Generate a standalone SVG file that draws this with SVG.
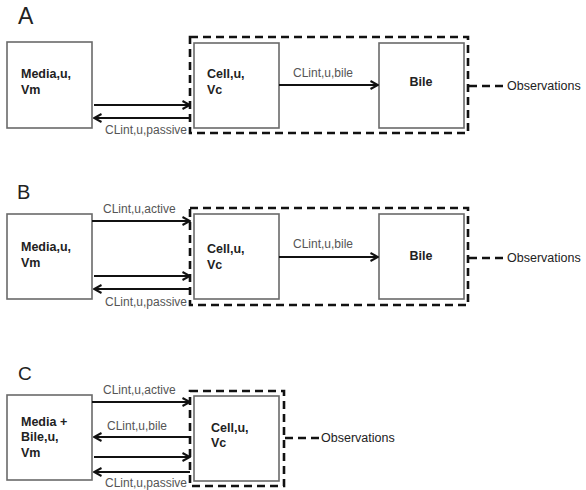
<svg xmlns="http://www.w3.org/2000/svg" width="586" height="490" viewBox="0 0 586 490">
<style>
.box{fill:#fff;stroke:#6a6a6a;stroke-width:1.6}
.dash{fill:none;stroke:#111;stroke-width:2.6;stroke-dasharray:8,5}
.obsl{fill:none;stroke:#111;stroke-width:2.4;stroke-dasharray:8,5}
.arr{stroke:#111;stroke-width:2.2;fill:none;marker-end:url(#ah)}
.ln{stroke:#111;stroke-width:2.2;fill:none}
.nt{font-family:"Liberation Sans",Arial,sans-serif;font-weight:bold;font-size:12.5px;fill:#222}
.lb{font-family:"Liberation Sans",Arial,sans-serif;font-size:12px;fill:#555}
.ob{font-family:"Liberation Sans",Arial,sans-serif;font-size:12.5px;fill:#222}
.pl{font-family:"Liberation Sans",Arial,sans-serif;fill:#222}
</style>
<defs>
<marker id="ah" markerWidth="10" markerHeight="10" refX="9" refY="5" orient="auto" markerUnits="userSpaceOnUse">
<path d="M1.5,1 L9,5 L1.5,9" fill="none" stroke="#111" stroke-width="2"/>
</marker>
</defs>
<rect width="586" height="490" fill="#fff"/>

<!-- Panel A -->
<text class="pl" x="18" y="24" font-size="23">A</text>
<g id="A-media"><rect class="box" x="7" y="42" width="85" height="86"/><text class="nt" x="21" y="78">Media,u,</text><text class="nt" x="21" y="94">Vm</text></g>
<g id="A-cell"><rect class="box" x="194" y="43" width="85" height="85"/><text class="nt" x="207" y="78">Cell,u,</text><text class="nt" x="207" y="94">Vc</text></g>
<g id="A-bile"><rect class="box" x="379" y="43" width="85" height="85"/><text class="nt" x="421" y="86" text-anchor="middle">Bile</text></g>
<g id="A-compartment"><rect class="dash" x="190" y="37" width="278" height="96"/></g>
<g id="A-obs"><text class="ob" x="507" y="90">Observations</text></g>
<g id="A-connectors">
<line class="arr" x1="94" y1="105" x2="190" y2="105"/>
<line class="arr" x1="190" y1="118" x2="94" y2="118"/>
<text class="lb" x="105" y="134">CLint,u,passive</text>
<line class="arr" x1="279" y1="85" x2="378" y2="85"/>
<text class="lb" x="293" y="77">CLint,u,bile</text>
<line class="obsl" x1="469" y1="86" x2="506" y2="86"/>
</g>

<!-- Panel B -->
<text class="pl" x="17" y="199" font-size="20">B</text>
<g id="B-media"><rect class="box" x="7" y="214" width="85" height="85"/><text class="nt" x="21" y="251">Media,u,</text><text class="nt" x="21" y="267">Vm</text></g>
<g id="B-cell"><rect class="box" x="194" y="214" width="85" height="85"/><text class="nt" x="207" y="253">Cell,u,</text><text class="nt" x="207" y="269">Vc</text></g>
<g id="B-bile"><rect class="box" x="379" y="214" width="85" height="85"/><text class="nt" x="421" y="260" text-anchor="middle">Bile</text></g>
<g id="B-compartment"><rect class="dash" x="190" y="208" width="278" height="97"/></g>
<g id="B-obs"><text class="ob" x="507" y="262">Observations</text></g>
<g id="B-connectors">
<line class="arr" x1="92" y1="221" x2="190" y2="221"/>
<text class="lb" x="103" y="213">CLint,u,active</text>
<line class="arr" x1="94" y1="276" x2="190" y2="276"/>
<line class="arr" x1="190" y1="289" x2="94" y2="289"/>
<text class="lb" x="105" y="306">CLint,u,passive</text>
<line class="arr" x1="279" y1="257" x2="378" y2="257"/>
<text class="lb" x="293" y="248">CLint,u,bile</text>
<line class="obsl" x1="469" y1="258" x2="506" y2="258"/>
</g>

<!-- Panel C -->
<text class="pl" x="18" y="380" font-size="19">C</text>
<g id="C-media"><rect class="box" x="7" y="395" width="85" height="85"/><text class="nt" x="21" y="426">Media +</text><text class="nt" x="21" y="441">Bile,u,</text><text class="nt" x="21" y="457">Vm</text></g>
<g id="C-cell"><rect class="box" x="194" y="396" width="85" height="85"/><text class="nt" x="211" y="432">Cell,u,</text><text class="nt" x="211" y="447">Vc</text></g>
<g id="C-compartment"><rect class="dash" x="190" y="391" width="94" height="95"/></g>
<g id="C-obs"><text class="ob" x="321" y="442">Observations</text></g>
<g id="C-connectors">
<line class="arr" x1="92" y1="402" x2="190" y2="402"/>
<text class="lb" x="103" y="394">CLint,u,active</text>
<line class="arr" x1="190" y1="437" x2="94" y2="437"/>
<text class="lb" x="107" y="430">CLint,u,bile</text>
<line class="arr" x1="94" y1="457" x2="190" y2="457"/>
<line class="arr" x1="190" y1="472" x2="94" y2="472"/>
<text class="lb" x="105" y="487">CLint,u,passive</text>
<line class="obsl" x1="285" y1="438" x2="320" y2="438"/>
</g>
</svg>
